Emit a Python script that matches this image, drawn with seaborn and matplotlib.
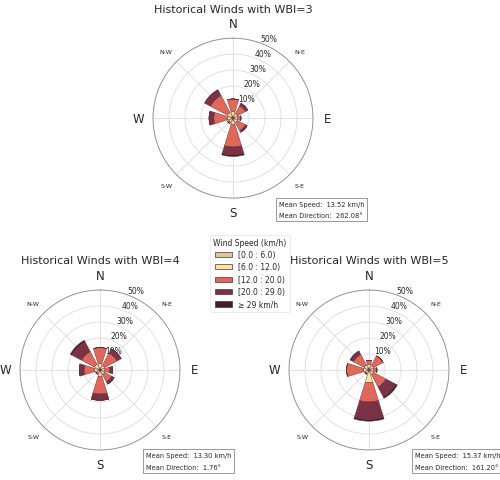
import numpy as np
import matplotlib
matplotlib.use("Agg")
import matplotlib.pyplot as plt
import seaborn as sns

sns.set_style("white")
plt.rcParams['font.family'] = ['DejaVu Sans']

directions = ["N", "N-E", "E", "S-E", "S", "S-W", "W", "N-W"]
speed_bins = ["[0.0 : 6.0)", "[6.0 : 12.0)", "[12.0 : 20.0)", "[20.0 : 29.0)", "\u2265 29 km/h"]
bin_colors = ["#cfcf9e", "#fde3a2", "#e0685a", "#7a3344", "#3f1f2a"]

# % frequency per direction, one list per speed bin
wbi3 = [[1.0, 0.8, 0.8, 0.8, 1.0, 0.8, 0.8, 1.0],
        [3.0, 2.5, 2.2, 2.5, 3.0, 2.2, 2.5, 3.0],
        [8.0, 5.5, 2.0, 5.5, 14.0, 1.0, 8.7, 12.0],
        [0.0, 1.7, 0.0, 1.2, 5.0, 0.0, 3.0, 4.0],
        [0.0, 0.0, 0.0, 0.0, 1.0, 0.0, 0.0, 0.0]]
wbi4 = [[1.0, 0.8, 0.8, 0.8, 1.0, 0.8, 0.8, 1.0],
        [3.0, 2.5, 2.2, 2.5, 3.0, 1.7, 2.5, 3.0],
        [10.0, 8.7, 3.0, 5.0, 11.0, 0.5, 6.7, 9.0],
        [0.0, 3.0, 2.0, 1.7, 4.0, 0.0, 3.0, 7.0],
        [0.0, 0.0, 0.0, 0.0, 0.0, 0.0, 0.0, 1.0]]
wbi5 = [[1.0, 0.8, 0.8, 0.8, 1.0, 0.8, 0.8, 1.0],
        [2.5, 2.5, 2.0, 2.5, 7.0, 1.7, 2.5, 2.5],
        [2.5, 6.7, 2.2, 8.7, 12.0, 0.5, 10.7, 7.5],
        [0.0, 0.0, 0.0, 7.0, 11.0, 0.0, 0.0, 2.0],
        [0.0, 0.0, 0.0, 1.0, 1.0, 0.0, 0.0, 0.5]]
wbi_levels = [3, 4, 5]
mean_speeds = [13.52, 13.30, 15.37]
mean_dirs = [262.08, 1.76, 161.20]

fig = plt.figure(figsize=(5.0, 4.81), dpi=100)
boxes = [[0.306, 0.586, 0.32, 0.3326],
         [0.04, 0.0624, 0.32, 0.3326],
         [0.578, 0.0624, 0.32, 0.3326]]
data_sets = [wbi3, wbi4, wbi5]
theta = np.deg2rad(np.arange(0, 360, 45))

for box, data, level, ms, md in zip(boxes, data_sets, wbi_levels, mean_speeds, mean_dirs):
    ax = fig.add_axes(box, projection="polar")
    ax.set_theta_zero_location("N")
    ax.set_theta_direction(-1)
    bottom = np.zeros(len(directions))
    for vals, col in zip(data, bin_colors):
        vals = np.array(vals)
        ax.bar(theta, vals, width=0.6, bottom=bottom, color=col,
               edgecolor="#5a2a35", linewidth=0.3, zorder=3)
        bottom += vals
    ax.set_ylim(0, 50)
    ax.set_yticks([10, 20, 30, 40, 50])
    ax.set_yticklabels(["10%", "20%", "30%", "40%", "50%"], fontsize=5.5)
    ax.set_rlabel_position(20)
    ax.set_xticks(theta)
    ax.set_xticklabels(directions)
    for lab, d in zip(ax.get_xticklabels(), directions):
        lab.set_fontsize(8.5 if len(d) == 1 else 4.5)
    ax.tick_params(axis="x", pad=0)
    ax.grid(color="#dddddd", linewidth=0.6)
    ax.spines["polar"].set_color("#888888")
    ax.spines["polar"].set_linewidth(0.6)
    ax.set_title(f"Historical Winds with WBI={level}", fontsize=8, pad=4)
    ax.text(0.785, -0.015, f"Mean Speed:  {ms:.2f} km/h\nMean Direction:  {md:.2f}\u00b0",
            transform=ax.transAxes, fontsize=4.8, ha="left", va="top",
            linespacing=2.1,
            bbox=dict(boxstyle="square,pad=0.45", fc="white", ec="#888888", lw=0.6))

handles = [plt.Rectangle((0, 0), 1, 1, fc=c, ec="#5a2a35", lw=0.5) for c in bin_colors]
leg = fig.legend(handles, speed_bins, title="Wind Speed (km/h)", loc="center",
                 bbox_to_anchor=(0.5, 0.43), fontsize=5.5, title_fontsize=5.5,
                 frameon=True, handlelength=2.2, labelspacing=0.45)
leg.get_frame().set_edgecolor("#dddddd")
leg.get_frame().set_linewidth(0.5)

fig.savefig("out.png", dpi=100)
